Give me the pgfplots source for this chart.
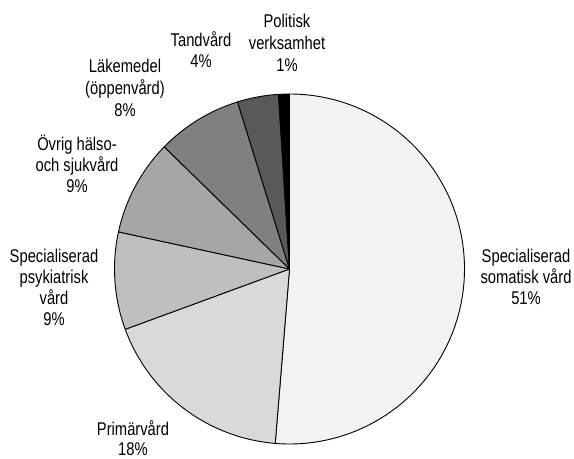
\documentclass[border=0pt]{standalone}
\usepackage{fontspec}
\setmainfont{Liberation Sans}[FakeStretch=0.8]
\usepackage{pgfplots}
\pgfplotsset{compat=1.18}
\definecolor{c1}{HTML}{F2F2F2}
\definecolor{c2}{HTML}{D9D9D9}
\definecolor{c3}{HTML}{BFBFBF}
\definecolor{c4}{HTML}{A6A6A6}
\definecolor{c5}{HTML}{808080}
\definecolor{c6}{HTML}{595959}
\definecolor{c7}{HTML}{000000}
% slice: cumulative start share, cumulative end share (percent), colour
\newcommand{\slice}[3]{%
  \filldraw[fill=#3, draw=black, line width=0.9bp, line join=round]
    (axis cs:289.5,269) -- ++({90-3.6*#1}:175bp)
    arc[start angle={90-3.6*#1}, end angle={90-3.6*#2}, radius=175bp] -- cycle;}
\newcommand{\lab}[3]{\node[anchor=base, inner sep=0pt, font=\fontsize{18.5}{21}\selectfont] at (axis cs:#1,#2) {#3};}
\begin{document}
\begin{tikzpicture}
\begin{axis}[scale only axis, width=574bp, height=459bp,
  xmin=0, xmax=574, ymin=0, ymax=459, y dir=reverse,
  hide axis, clip=false]
\path (axis cs:0,0) rectangle (axis cs:574,459);
% shares in percent: 51.3, 18.1, 9.0, 8.9, 7.9, 3.8, 1.0
\slice{0}{51.3}{c1}
\slice{51.3}{69.4}{c2}
\slice{69.4}{78.4}{c3}
\slice{78.4}{87.3}{c4}
\slice{87.3}{95.2}{c5}
\slice{95.2}{99.0}{c6}
\slice{99.0}{100}{c7}
% labels
\lab{287}{28}{Politisk}
\lab{287}{50}{verksamhet}
\lab{287}{72}{1\%}
\lab{201}{47}{Tandvård}
\lab{201}{68}{4\%}
\lab{125}{73}{Läkemedel}
\lab{125}{94}{(öppenvård)}
\lab{125}{116}{8\%}
\lab{77}{150}{Övrig hälso-}
\lab{77}{171}{och sjukvård}
\lab{77}{192}{9\%}
\lab{54}{262}{Specialiserad}
\lab{54}{283}{psykiatrisk}
\lab{54}{304}{vård}
\lab{54}{325}{9\%}
\lab{133}{435}{Primärvård}
\lab{133}{455}{18\%}
\lab{526}{262}{Specialiserad}
\lab{526}{283}{somatisk vård}
\lab{526}{304}{51\%}
\end{axis}
\end{tikzpicture}
\end{document}
